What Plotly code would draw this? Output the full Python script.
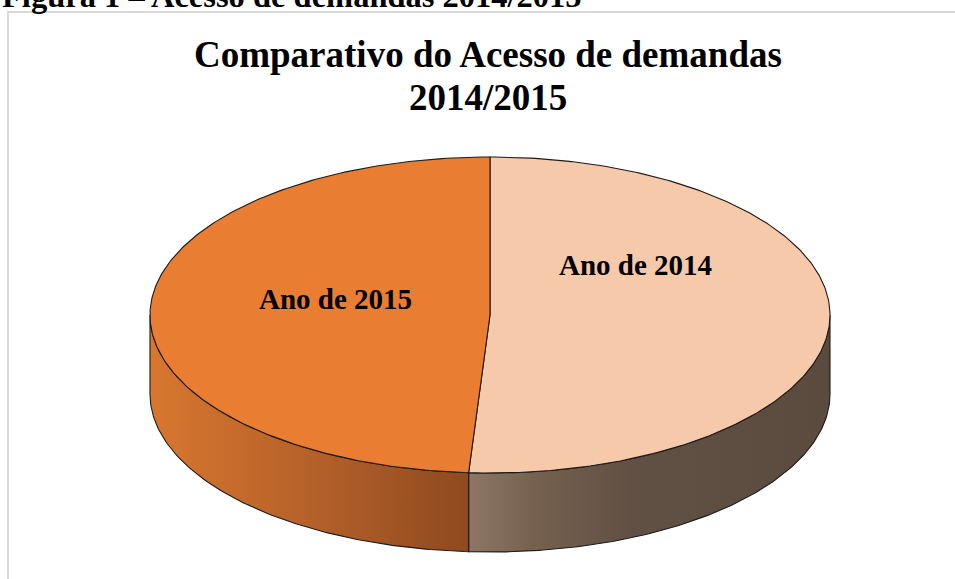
import numpy as np
import plotly.graph_objects as go

# ---------------- data ----------------
categories = ["Ano de 2014", "Ano de 2015"]
values = [51, 49]
title_lines = ["Comparativo do Acesso de demandas", "2014/2015"]
caption = "Figura 1 – Acesso de demandas 2014/2015"

# ---------------- styles ----------------
top_colors = ["#F5C9A9", "#E97D31"]
side_scales = [
    [[0, "#8D7666"], [0.18, "#76614F"], [0.45, "#615044"], [1, "#5B4A3E"]],
    [[0, "#D8772F"], [0.5, "#B6612A"], [1, "#8E4A1F"]],
]
outline = "#1E1A18"
W, H = 955, 579
CX, CY, RX, RY, DEPTH = 490, 315, 340, 158, 79
FONT = "Liberation Serif"


def pt(theta_deg, dy=0.0):
    t = np.radians(theta_deg)
    return CX + RX * np.sin(t), CY - RY * np.cos(t) + dy


def py(p):  # pixel row -> paper y
    return 1 - p / H


fig = go.Figure()

total = float(sum(values))
bounds = []
start = 0.0
for v in values:
    end = start + 360.0 * v / total
    bounds.append((start, end))
    start = end

# sides (front half only: 90..270 deg)
for (a, b), scale in zip(bounds, side_scales):
    lo, hi = max(a, 90.0), min(b, 270.0)
    if hi <= lo:
        continue
    th = np.linspace(lo, hi, 120)
    xt, yt = pt(th)
    xb, yb = pt(th[::-1], DEPTH)
    xs = np.concatenate([xt, xb, xt[:1]])
    ys = np.concatenate([yt, yb, yt[:1]])
    fig.add_trace(go.Scatter(
        x=xs, y=ys, mode="lines", fill="toself",
        fillgradient=dict(type="horizontal", colorscale=scale),
        line=dict(color=outline, width=1.1), hoverinfo="skip", showlegend=False))

# top faces
for (a, b), col, name in zip(bounds, top_colors, categories):
    th = np.linspace(a, b, 240)
    xa, ya = pt(th)
    xs = np.concatenate([[CX], xa, [CX]])
    ys = np.concatenate([[CY], ya, [CY]])
    fig.add_trace(go.Scatter(
        x=xs, y=ys, mode="lines", fill="toself", fillcolor=col,
        line=dict(color=outline, width=1.1), name=name,
        hoverinfo="skip", showlegend=False))

annotations = [
    dict(text="<b>%s</b>" % caption, x=0, xanchor="left", y=py(-4), yanchor="middle",
         font=dict(size=32.5, family=FONT, color="black")),
    dict(text="<b>%s</b>" % title_lines[0], x=488 / W, xanchor="center", y=py(55), yanchor="middle",
         font=dict(size=37, family=FONT, color="black")),
    dict(text="<b>%s</b>" % title_lines[1], x=488 / W, xanchor="center", y=py(98), yanchor="middle",
         font=dict(size=37, family=FONT, color="black")),
    dict(text="<b>%s</b>" % categories[0], x=635 / W, xanchor="center", y=py(265), yanchor="middle",
         font=dict(size=29, family=FONT, color="black")),
    dict(text="<b>%s</b>" % categories[1], x=335 / W, xanchor="center", y=py(299), yanchor="middle",
         font=dict(size=29, family=FONT, color="black")),
]
for an in annotations:
    an.update(xref="paper", yref="paper", showarrow=False)

fig.update_layout(
    width=W, height=H,
    margin=dict(l=0, r=0, t=0, b=0),
    paper_bgcolor="white", plot_bgcolor="white",
    xaxis=dict(range=[0, W], visible=False, fixedrange=True),
    yaxis=dict(range=[H, 0], visible=False, fixedrange=True),
    annotations=annotations,
    shapes=[dict(type="rect", xref="paper", yref="paper",
                 x0=8 / W, x1=1.02, y0=-0.02, y1=py(12),
                 line=dict(color="#D9D9D9", width=2), layer="below")],
    showlegend=False,
)

fig.write_html("out.html", config={"displayModeBar": False},
               post_script="document.body.style.margin='0px';")
